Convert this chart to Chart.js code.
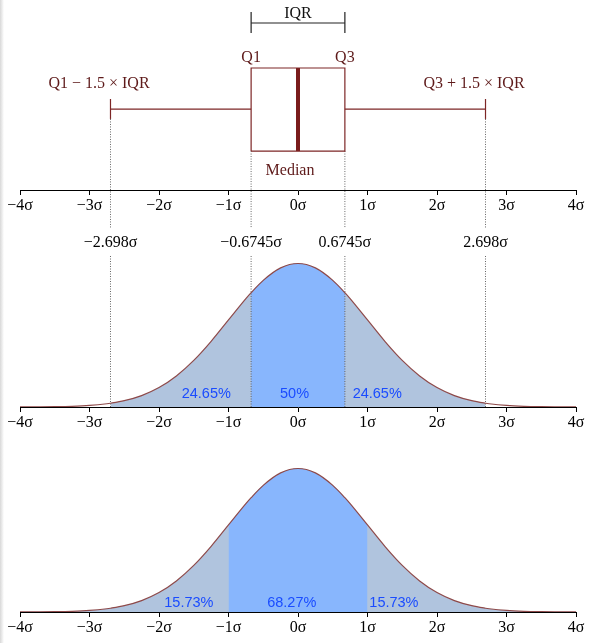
<!DOCTYPE html>
<html lang="en">
<head>
    <title>Box plot and normal distribution</title>
    <script src="https://cdn.jsdelivr.net/npm/chart.js"></script>
    <style>
        body { margin: 0; background: #fff; }
        .panel { position: absolute; left: 0; width: 591px; }
        .edge { position: absolute; left: 0; top: 0; width: 4px; height: 643px;
                background: linear-gradient(to right, #d8d8d8, #fff); z-index: 2; }
    </style>
</head>
<body>
    <div class="edge"></div>
    <div class="panel" style="top:0"><canvas id="boxChart" width="591" height="228"></canvas></div>
    <div class="panel" style="top:228px"><canvas id="iqrChart" width="591" height="210"></canvas></div>
    <div class="panel" style="top:438px"><canvas id="sigmaChart" width="591" height="205"></canvas></div>

    <script>
        // axis ticks in units of sigma
        const sigmaTicks = [-4, -3, -2, -1, 0, 1, 2, 3, 4];
        const sigmaLabels = ['−4σ', '−3σ', '−2σ', '−1σ', '0σ', '1σ', '2σ', '3σ', '4σ'];

        // box plot values: Q1, median, Q3 and the whisker ends
        const quartiles = [-0.6745, 0, 0.6745];
        const whiskers = [-2.698, 2.698];
        const markTicks = [-2.698, -0.6745, 0.6745, 2.698];
        const markLabels = ['−2.698σ', '−0.6745σ', '0.6745σ', '2.698σ'];

        // density curve
        const curveX = [-4, -3.75, -3.5, -3.25, -3, -2.75, -2.698, -2.5, -2.25, -2, -1.75, -1.5, -1.25, -1,
                        -0.75, -0.6745, -0.5, -0.25, 0, 0.25, 0.5, 0.6745, 0.75, 1, 1.25, 1.5, 1.75, 2,
                        2.25, 2.5, 2.698, 2.75, 3, 3.25, 3.5, 3.75, 4];
        const curveY = [0.0001, 0.0004, 0.0009, 0.0020, 0.0044, 0.0091, 0.0105, 0.0175, 0.0317, 0.0540, 0.0863, 0.1295, 0.1826, 0.2420,
                        0.3011, 0.3178, 0.3521, 0.3867, 0.3989, 0.3867, 0.3521, 0.3178, 0.3011, 0.2420, 0.1826, 0.1295, 0.0863, 0.0540,
                        0.0317, 0.0175, 0.0105, 0.0091, 0.0044, 0.0020, 0.0009, 0.0004, 0.0001];

        // shaded ranges (outer light band, inner dark band) and their shares
        const iqrOuter = [-2.698, 2.698], iqrInner = [-0.6745, 0.6745];
        const iqrShares = ['24.65%', '50%', '24.65%'];
        const sigmaOuter = [-4, 4], sigmaInner = [-1, 1];
        const sigmaShares = ['15.73%', '68.27%', '15.73%'];

        const LIGHT = '#b0c4de', DARK = '#88b6fd', CURVE = '#8e4a4a', BOX = '#7d2626', LABEL = '#5e1a1a', SHARE = '#1a4cff';
        const Y_MAX = 0.4226;

        Chart.defaults.font.family = "'Liberation Serif', 'DejaVu Serif', serif";
        Chart.defaults.font.size = 16;
        Chart.defaults.color = '#000';

        // draws free text at data coordinates
        const textLabels = {
            id: 'textLabels',
            afterDraw(chart, args, opts) {
                const ctx = chart.ctx, xs = chart.scales.x, ys = chart.scales.y;
                ctx.save();
                (opts.items || []).forEach(it => {
                    ctx.font = it.font || "16px 'Liberation Serif', serif";
                    ctx.fillStyle = it.color || '#000';
                    ctx.textAlign = 'center';
                    ctx.textBaseline = 'alphabetic';
                    ctx.fillText(it.text, xs.getPixelForValue(it.x), ys.getPixelForValue(it.y));
                });
                ctx.restore();
            }
        };

        function sigmaAxis(height) {
            return {
                type: 'linear', min: -4, max: 4, position: 'bottom', z: 1,
                afterBuildTicks: s => { s.ticks = sigmaTicks.map(v => ({ value: v })); },
                afterFit: s => { s.height = height; },
                ticks: { color: '#000', padding: 1, autoSkip: false, maxRotation: 0,
                         callback: (v, i) => sigmaLabels[i] },
                grid: { drawOnChartArea: false, color: '#000', tickLength: 5 },
                border: { color: '#000', width: 1 }
            };
        }

        function seg(points, color, width, dash) {
            return { data: points, borderColor: color, borderWidth: width, borderDash: dash || [],
                     pointRadius: 0, fill: false, clip: false, order: 1 };
        }

        function curvePoints(lo, hi) {
            return curveX.map((x, i) => ({ x: x, y: curveY[i] }))
                         .filter(p => p.x >= lo - 1e-9 && p.x <= hi + 1e-9);
        }

        function band(range, color, order) {
            return { data: curvePoints(range[0], range[1]), borderWidth: 0, backgroundColor: color, fill: 'origin',
                     pointRadius: 0, cubicInterpolationMode: 'monotone', order: order };
        }

        function curveDatasets(outer, inner) {
            return [
                { data: curvePoints(-4, 4), borderColor: CURVE, borderWidth: 1.2, fill: false,
                  pointRadius: 0, cubicInterpolationMode: 'monotone', order: 0 },
                band(inner, DARK, 3),
                band(outer, LIGHT, 4)
            ];
        }

        const common = {
            responsive: false, animation: false,
            plugins: { legend: { display: false }, tooltip: { enabled: false } }
        };

        // ---- top: box plot ----
        const q1 = quartiles[0], med = quartiles[1], q3 = quartiles[2];
        const w1 = whiskers[0], w2 = whiskers[1];
        const boxLo = 20.5, boxHi = 64.2, whiskY = 42.6, capLo = 37.4, capHi = 47.9, dotEnd = -20;
        const bracketY = 87.9, bracketLo = 82.6, bracketHi = 93.7;

        new Chart(document.getElementById('boxChart'), {
            type: 'line',
            data: {
                datasets: [
                    seg([{x: q1, y: boxLo}, {x: q3, y: boxLo}, {x: q3, y: boxHi}, {x: q1, y: boxHi}, {x: q1, y: boxLo}], BOX, 1.2),
                    seg([{x: med, y: boxLo}, {x: med, y: boxHi}], '#7a1c1c', 4),
                    seg([{x: w1, y: whiskY}, {x: q1, y: whiskY}], BOX, 1.2),
                    seg([{x: q3, y: whiskY}, {x: w2, y: whiskY}], BOX, 1.2),
                    seg([{x: w1, y: capLo}, {x: w1, y: capHi}], BOX, 1.2),
                    seg([{x: w2, y: capLo}, {x: w2, y: capHi}], BOX, 1.2),
                    seg([{x: q1, y: bracketY}, {x: q3, y: bracketY}], '#222', 1.2),
                    seg([{x: q1, y: bracketLo}, {x: q1, y: bracketHi}], '#222', 1.2),
                    seg([{x: q3, y: bracketLo}, {x: q3, y: bracketHi}], '#222', 1.2),
                    seg([{x: w1, y: capLo}, {x: w1, y: dotEnd}], '#666', 1, [1, 1.5]),
                    seg([{x: w2, y: capLo}, {x: w2, y: dotEnd}], '#666', 1, [1, 1.5]),
                    seg([{x: q1, y: boxLo}, {x: q1, y: dotEnd}], '#666', 1, [1, 1.5]),
                    seg([{x: q3, y: boxLo}, {x: q3, y: dotEnd}], '#666', 1, [1, 1.5])
                ]
            },
            options: {
                ...common,
                layout: { padding: { left: 20, right: 15, top: 0, bottom: 0 } },
                scales: {
                    x: sigmaAxis(38),
                    y: { type: 'linear', display: false, min: 0, max: 100 }
                },
                plugins: {
                    ...common.plugins,
                    textLabels: { items: [
                        { x: med, y: 90.5, text: 'IQR', color: '#111' },
                        { x: q1, y: 67.4, text: 'Q1', color: LABEL },
                        { x: q3, y: 67.4, text: 'Q3', color: LABEL },
                        { x: -2.863, y: 53.7, text: 'Q1 − 1.5 × IQR', color: LABEL },
                        { x: 2.532, y: 53.7, text: 'Q3 + 1.5 × IQR', color: LABEL },
                        { x: -0.115, y: 7.9, text: 'Median', color: LABEL }
                    ] }
                }
            },
            plugins: [textLabels]
        });

        // ---- middle: quartile shares ----
        const iqrSets = curveDatasets(iqrOuter, iqrInner);
        markTicks.forEach(v => iqrSets.push(seg([{x: v, y: 0}, {x: v, y: Y_MAX}], '#666', 1, [1, 1.5])));

        new Chart(document.getElementById('iqrChart'), {
            type: 'line',
            data: { datasets: iqrSets },
            options: {
                ...common,
                layout: { padding: { left: 20, right: 15, top: 0, bottom: 0 } },
                scales: {
                    x: sigmaAxis(31),
                    xq: {
                        type: 'linear', min: -4, max: 4, position: 'top',
                        afterBuildTicks: s => { s.ticks = markTicks.map(v => ({ value: v })); },
                        afterFit: s => { s.height = 27; },
                        ticks: { color: '#000', padding: 3, autoSkip: false, maxRotation: 0,
                                 callback: (v, i) => markLabels[i] },
                        grid: { display: false, drawTicks: false },
                        border: { display: false }
                    },
                    y: { type: 'linear', display: false, min: 0, max: Y_MAX }
                },
                plugins: {
                    ...common.plugins,
                    textLabels: { items: [-1.32, -0.05, 1.14].map((x, i) => ({
                        x: x, y: 0.025, text: iqrShares[i], color: SHARE, font: "14.5px 'Liberation Sans', sans-serif"
                    })) }
                }
            },
            plugins: [textLabels]
        });

        // ---- bottom: sigma shares ----
        new Chart(document.getElementById('sigmaChart'), {
            type: 'line',
            data: { datasets: curveDatasets(sigmaOuter, sigmaInner) },
            options: {
                ...common,
                layout: { padding: { left: 20, right: 15, top: 22, bottom: 0 } },
                scales: {
                    x: sigmaAxis(31),
                    y: { type: 'linear', display: false, min: 0, max: Y_MAX }
                },
                plugins: {
                    ...common.plugins,
                    textLabels: { items: [-1.57, -0.09, 1.38].map((x, i) => ({
                        x: x, y: 0.014, text: sigmaShares[i], color: SHARE, font: "14.5px 'Liberation Sans', sans-serif"
                    })) }
                }
            },
            plugins: [textLabels]
        });
    </script>
</body>
</html>
